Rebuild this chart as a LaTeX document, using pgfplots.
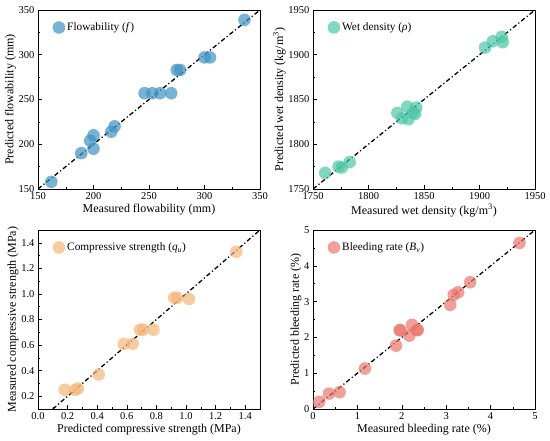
\documentclass[border=0pt]{standalone}
\usepackage{pgfplots}
\pgfplotsset{compat=1.18}
\usepackage{fontspec}
\setmainfont{Liberation Serif}
\definecolor{cflow}{HTML}{3F93C4}
\definecolor{cwet}{HTML}{4CC6A6}
\definecolor{ccomp}{HTML}{F4B679}
\definecolor{cbleed}{HTML}{E9776E}
\pgfplotsset{
  myax/.style={
    scale only axis, width=222bp, height=179bp,
    anchor=north west,
    tick align=inside, xtick pos=bottom, ytick pos=left,
    minor x tick num=1, minor y tick num=1,
    major tick length=3.5bp, minor tick length=2bp,
    tick style={black, line width=0.5pt},
    axis line style={line width=0.6pt},
    /pgf/number format/assume math mode=true,
    tick label style={font=\fontsize{10.5bp}{12bp}\selectfont},
    label style={font=\fontsize{12bp}{14bp}\selectfont},
    xlabel style={yshift=2bp},
    ylabel style={yshift=-4bp},
    legend style={draw=none, fill=none, at={(0.056,0.952)}, anchor=north west,
      font=\fontsize{11.3bp}{13bp}\selectfont, inner sep=2pt},
    legend cell align=left,
    legend image code/.code={\draw[#1] plot coordinates {(0.3cm,0cm)};},
  },
  pts/.style={only marks, mark=*, mark size=6.3bp, color=#1,
    mark options={draw opacity=0, fill=#1, fill opacity=0.7}},
  diag/.style={black, line width=1.3pt, dash pattern=on 4.5bp off 2.5bp on 1.2bp off 2.5bp, forget plot},
}
\begin{document}
\begin{tikzpicture}[x=1bp,y=1bp]
\useasboundingbox (0,0) rectangle (550,441);
% Flowability
\begin{axis}[myax, at={(38bp,431bp)},
  xmin=150, xmax=350, ymin=150, ymax=350,
  xtick={150,200,250,300,350}, ytick={150,200,250,300,350},
  xlabel={Measured flowability (mm)}, ylabel={Predicted flowability (mm)}]
\addplot[diag] coordinates {(150,150) (350,350)};
\addplot[pts=cflow] coordinates {
(162,158) (189,190) (197,204) (200,210) (200,195) (216,214) (219,220)
(246,257) (253,257) (260,257) (270,257) (275,283) (278,283)
(300,297) (305,297) (336,339)};
\addlegendentry{Flowability (\textit{f})}
\end{axis}
% Wet density
\begin{axis}[myax, at={(313bp,431bp)},
  xmin=1750, xmax=1950, ymin=1750, ymax=1950,
  xtick={1750,1800,1850,1900,1950}, ytick={1750,1800,1850,1900,1950},
  /pgf/number format/set thousands separator={},
  xlabel={Measured wet density (kg/m\textsuperscript{3})}, ylabel={Predicted wet density (kg/m\textsuperscript{3})}]
\addplot[diag] coordinates {(1750,1750) (1950,1950)};
\addplot[pts=cwet] coordinates {
(1761,1768) (1773,1775) (1776,1774) (1783,1780)
(1826,1835) (1830,1829) (1835,1842) (1836,1828) (1840,1835) (1843,1841) (1842,1834)
(1905,1908) (1912,1915) (1920,1920) (1921,1914)};
\addlegendentry{Wet density (\textit{ρ})}
\end{axis}
% Compressive strength
\begin{axis}[myax, at={(38bp,211bp)},
  xmin=0, xmax=1.5, ymin=0.1, ymax=1.5,
  xtick={0,0.2,...,1.41}, ytick={0.2,0.4,...,1.41},
  /pgf/number format/.cd, fixed, fixed zerofill, precision=1, /pgfplots/.cd,
  xlabel={Predicted compressive strength (MPa)}, ylabel={Measured compressive strength (MPa)}]
\addplot[diag] coordinates {(0.1,0.1) (1.5,1.5)};
\addplot[pts=ccomp] coordinates {
(0.18,0.25) (0.25,0.25) (0.27,0.26) (0.41,0.37) (0.58,0.61) (0.64,0.61)
(0.69,0.72) (0.71,0.72) (0.78,0.72) (0.92,0.97) (0.94,0.97) (1.02,0.96) (1.34,1.33)};
\addlegendentry{Compressive strength (\textit{q}\textsubscript{\textit{u}})}
\end{axis}
% Bleeding rate
\begin{axis}[myax, at={(313bp,211bp)},
  xmin=0, xmax=5, ymin=0, ymax=5,
  xtick={0,1,2,3,4,5}, ytick={0,1,2,3,4,5},
  xlabel={Measured bleeding rate (\%)}, ylabel={Predicted bleeding rate (\%)}]
\addplot[diag] coordinates {(0,0) (5,5)};
\addplot[pts=cbleed] coordinates {
(0.14,0.2) (0.36,0.43) (0.6,0.47) (1.17,1.13) (1.87,1.77) (1.95,2.2) (1.97,2.2)
(2.17,2.05) (2.23,2.35) (2.34,2.2) (2.36,2.21) (3.09,2.91) (3.17,3.19) (3.27,3.26)
(3.54,3.54) (4.65,4.64)};
\addlegendentry{Bleeding rate (\textit{B}\textsubscript{\textit{v}})}
\end{axis}
\end{tikzpicture}
\end{document}
